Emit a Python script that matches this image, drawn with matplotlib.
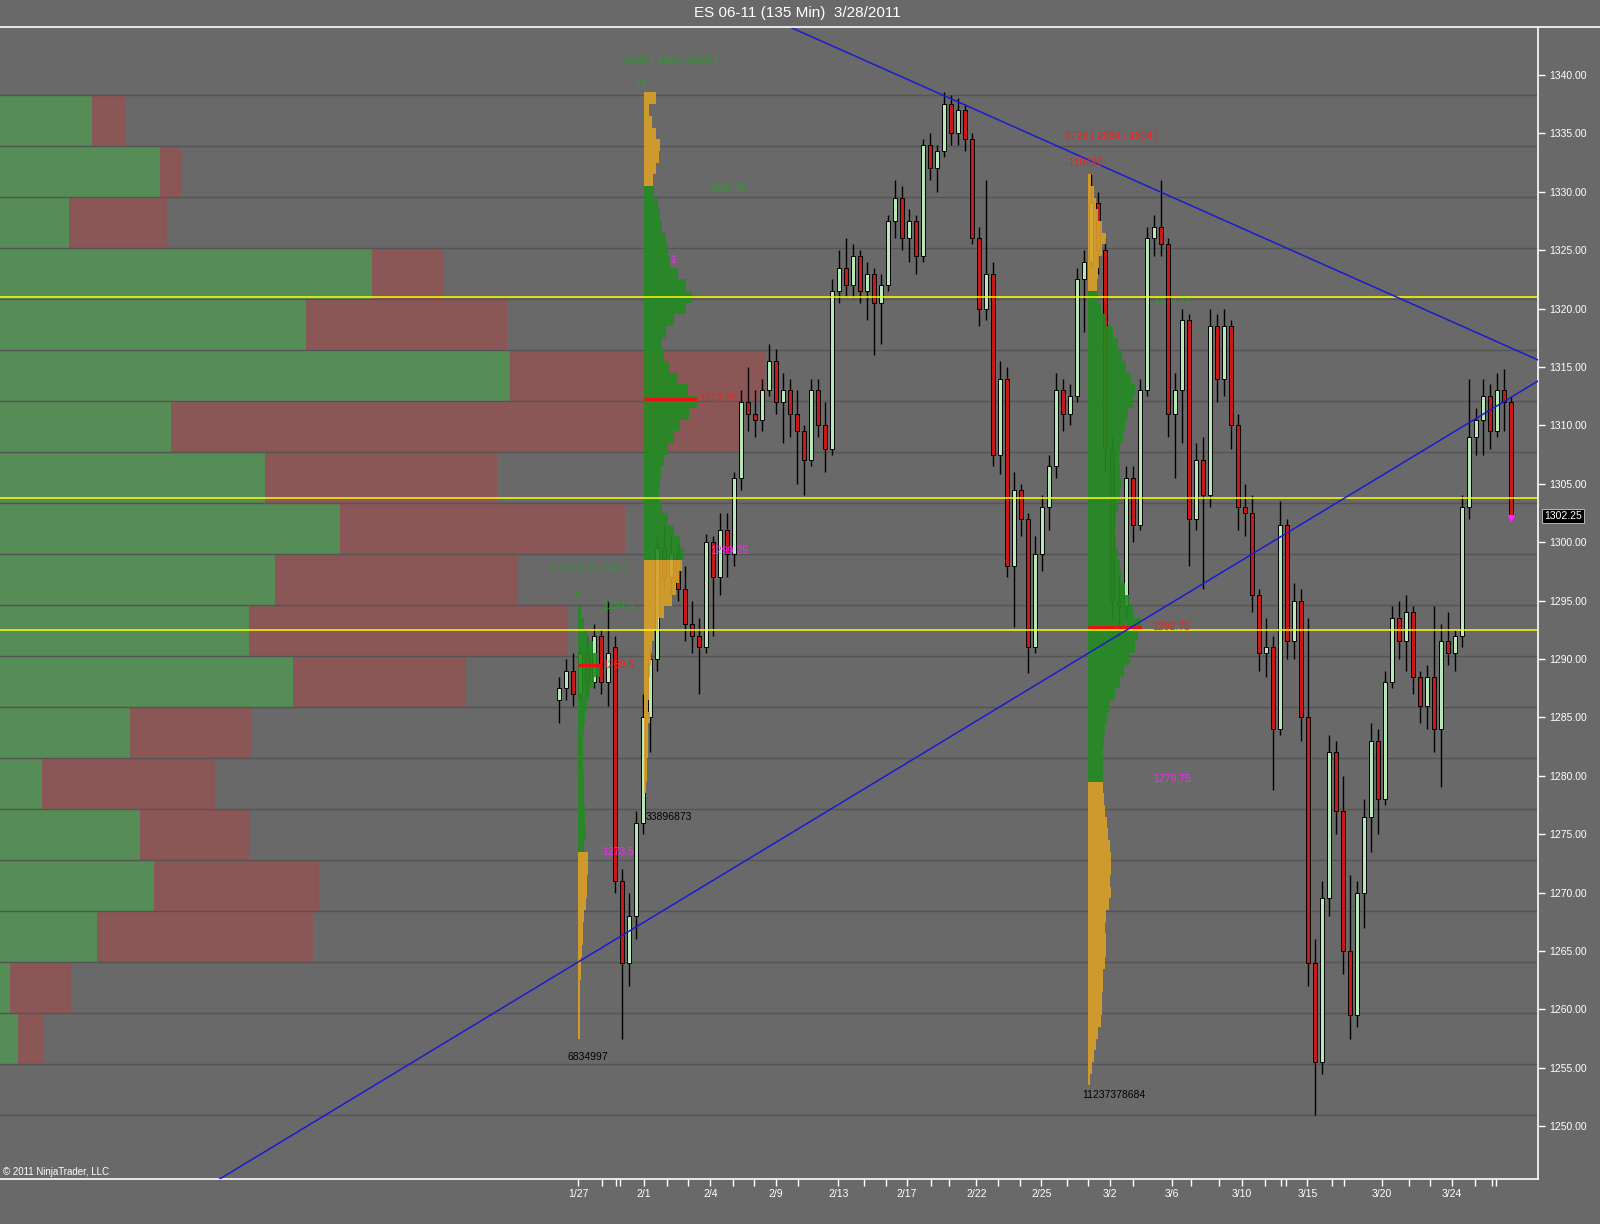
import numpy as np
import matplotlib
matplotlib.use("Agg")
import matplotlib.pyplot as plt
import matplotlib.transforms as mtransforms
from matplotlib.lines import Line2D

plt.rcParams['font.family'] = ['Liberation Sans', 'DejaVu Sans']

# ---------------- data ----------------
title = "ES 06-11 (135 Min)  3/28/2011"

opens = [1286.5, 1287.5, 1289, 1287, 1290.5, 1288, 1292, 1288, 1291, 1271,
         1264, 1268, 1276, 1285, 1290, 1299.5, 1297, 1299, 1296, 1293,
         1292, 1291, 1300, 1297, 1301, 1299, 1305.5, 1312, 1311, 1310.5,
         1313, 1315.5, 1312, 1313, 1311, 1309.5, 1307, 1313, 1310, 1308,
         1321.5, 1323.5, 1322, 1324.5, 1321.5, 1323, 1320.5, 1322, 1327.5, 1329.5,
         1326, 1327.5, 1324.5, 1334, 1332, 1333.5, 1337.5, 1335, 1337, 1334.5,
         1326, 1320, 1323, 1307.5, 1314, 1298, 1304.5, 1302, 1291, 1299,
         1303, 1306.5, 1313, 1311, 1312.5, 1322.5, 1324, 1329, 1325, 1308,
         1295, 1294.5, 1305.5, 1301.5, 1313, 1326, 1327, 1325.5, 1311, 1313,
         1319, 1302, 1307, 1304, 1318.5, 1314, 1318.5, 1310, 1303, 1302.5,
         1295.5, 1290.5, 1291, 1284, 1301.5, 1291.5, 1295, 1285, 1264, 1255.5,
         1269.5, 1282, 1277, 1265, 1259.5, 1270, 1276.5, 1283, 1278, 1288,
         1293.5, 1291.5, 1294, 1288.5, 1286, 1288.5, 1284, 1291.5, 1290.5, 1292,
         1303, 1309, 1310.5, 1312.5, 1309.5, 1313, 1312]
highs = [1288.5, 1290, 1290.5, 1291, 1292, 1293, 1292.5, 1295, 1292, 1272,
         1270, 1277, 1287, 1291, 1300.5, 1301.5, 1300.5, 1300, 1298, 1295,
         1293.5, 1300.7, 1300.5, 1302.5, 1302.5, 1306, 1313, 1315, 1313, 1314,
         1317, 1316.5, 1314.5, 1314, 1313, 1310, 1314, 1314, 1312, 1322.5,
         1325, 1326, 1325.5, 1325, 1324, 1323.5, 1323, 1328, 1331, 1330.5,
         1328.5, 1328, 1334.5, 1335, 1334, 1338.5, 1338.25, 1338, 1337.5, 1335,
         1327, 1331, 1324, 1315.5, 1315, 1306, 1305, 1302.5, 1300.5, 1304,
         1307.5, 1314.5, 1314, 1313.5, 1323.5, 1325, 1331.5, 1330, 1326, 1309,
         1297, 1306.5, 1306.5, 1314, 1327, 1328, 1331, 1326, 1314.5, 1320,
         1319.5, 1308.5, 1309, 1320, 1319.5, 1320, 1319, 1311, 1305, 1304,
         1296, 1293.5, 1292, 1303.5, 1302, 1296.5, 1296, 1293.5, 1266, 1271,
         1283.5, 1283, 1280, 1271.5, 1271, 1278, 1284.5, 1284, 1289, 1294.5,
         1295, 1295.5, 1294.5, 1289, 1289.5, 1294.5, 1293, 1294, 1292.5, 1304,
         1314, 1311.5, 1314, 1313.5, 1314.5, 1314.8, 1312.5]
lows = [1284.5, 1286.5, 1286, 1286.5, 1287, 1287.5, 1287, 1286, 1270, 1257.5,
        1262, 1266, 1275, 1282, 1289, 1296, 1295.5, 1295, 1291.5, 1290.5,
        1287, 1290.5, 1292, 1295.5, 1297, 1298, 1304.5, 1309.5, 1309, 1309.5,
        1312.5, 1311, 1308.5, 1309, 1305, 1304, 1306.5, 1309, 1306, 1307.5,
        1320.5, 1321, 1321, 1320.5, 1319, 1316, 1317, 1321.5, 1326, 1325,
        1324, 1323, 1324, 1331, 1330, 1333, 1334, 1334, 1333.5, 1325.5,
        1318.5, 1319, 1306.5, 1305.8, 1297, 1292.7, 1300.5, 1288.8, 1290.5, 1297.5,
        1301, 1305.5, 1309.5, 1310, 1312, 1318, 1323.5, 1323, 1306, 1293.5,
        1292, 1293.5, 1300, 1301, 1312.5, 1324.5, 1324.5, 1309, 1305.5, 1308.5,
        1298, 1301, 1296, 1303, 1312, 1312.5, 1308, 1301, 1300.5, 1294,
        1289, 1288.5, 1278.8, 1283.5, 1290, 1290, 1283, 1262, 1251, 1254.5,
        1268, 1275, 1263, 1257.5, 1258.5, 1267, 1273.5, 1275, 1277.5, 1287.5,
        1290, 1289, 1287, 1284.5, 1284, 1282, 1279, 1289.5, 1289, 1291,
        1302, 1307.5, 1307.5, 1308, 1309, 1309.5, 1302]
closes = [1287.5, 1289, 1287, 1290.5, 1288, 1292, 1288, 1290.5, 1271, 1264,
          1268, 1276, 1285, 1290, 1299.5, 1297, 1299, 1296, 1293, 1292,
          1291, 1300, 1297, 1301, 1299, 1305.5, 1312, 1311, 1310.5, 1313,
          1315.5, 1312, 1313, 1311, 1309.5, 1307, 1313, 1310, 1308, 1321.5,
          1323.5, 1322, 1324.5, 1321.5, 1323, 1320.5, 1322, 1327.5, 1329.5, 1326,
          1327.5, 1324.5, 1334, 1332, 1333.5, 1337.5, 1335, 1337, 1334.5, 1326,
          1320, 1323, 1307.5, 1314, 1298, 1304.5, 1302, 1291, 1299, 1303,
          1306.5, 1313, 1311, 1312.5, 1322.5, 1324, 1329, 1325, 1308, 1295,
          1294.5, 1305.5, 1301.5, 1313, 1326, 1327, 1325.5, 1311, 1313, 1319,
          1302, 1307, 1304, 1318.5, 1314, 1318.5, 1310, 1303, 1302.5, 1295.5,
          1290.5, 1291, 1284, 1301.5, 1291.5, 1295, 1285, 1264, 1255.5, 1269.5,
          1282, 1277, 1265, 1259.5, 1270, 1276.5, 1283, 1278, 1288, 1293.5,
          1291.5, 1294, 1288.5, 1286, 1288.5, 1284, 1291.5, 1290.5, 1292, 1303,
          1309, 1310.5, 1312.5, 1309.5, 1313, 1312, 1302.25]

date_tick_pos = [2.7, 12.1, 21.6, 31.0, 39.9, 49.7, 59.6, 68.9, 78.7, 87.6, 97.6, 106.9, 117.6, 127.6]
date_labels = ['1/27', '2/1', '2/4', '2/9', '2/13', '2/17', '2/22', '2/25', '3/2', '3/6', '3/10', '3/15', '3/20', '3/24']
session_tick_pos = [6.1, 8.1, 8.7, 15.4, 18.4, 24.9, 27.9, 34.1, 43.6, 46.7, 53.1, 55.7, 62.7, 65.9,
                    72.6, 75.6, 82.0, 90.3, 94.3, 100.9, 103.1, 103.9, 110.4, 112.1, 121.4, 124.4,
                    130.9, 133.3, 133.9]
price_ticks = [1250, 1255, 1260, 1265, 1270, 1275, 1280, 1285, 1290, 1295, 1300, 1305,
               1310, 1315, 1320, 1325, 1330, 1335, 1340]

# left volume profile (20 rows from low 1251 to high 1338.25)
row_edges = [1251.00, 1255.36, 1259.73, 1264.09, 1268.45, 1272.81, 1277.18, 1281.54, 1285.90,
             1290.26, 1294.63, 1298.99, 1303.35, 1307.71, 1312.08, 1316.44, 1320.80, 1325.16,
             1329.53, 1333.89, 1338.25]
buy_vol = [0, 18, 10, 97, 154, 140, 42, 130, 293, 249, 275, 340, 265, 171, 510, 306, 372, 69, 160, 92]
sell_vol = [0, 26, 61, 216, 165, 110, 173, 122, 173, 319, 243, 285, 232, 572, 255, 201, 72, 98, 22, 33]

# session volume profiles (1-point bins, listed from top price downward)
prof1_top = 1294
prof1_vol = [3, 6, 10, 15, 20, 22, 16, 12, 9, 7, 6, 5, 5, 5, 6, 6, 6, 7, 7, 8, 6,
             10, 10, 9, 9, 8, 6, 5, 5, 4, 3, 3, 2, 2, 2, 2, 2]
prof2_top = 1338
prof2_vol = [12, 5, 8, 12, 16, 15, 12, 9, 10, 14, 16, 18, 22, 24, 26, 34, 42, 48, 42, 30,
             22, 18, 20, 26, 34, 44, 53, 45, 36, 30, 24, 20, 17, 16, 15, 18, 24, 30, 36, 40,
             38, 35, 32, 28, 20, 14, 10, 8, 7, 6, 5, 5, 4, 6, 4, 4, 4, 3, 3, 2]
prof3_top = 1331
prof3_vol = [3, 6, 8, 10, 14, 18, 14, 11, 10, 9, 10, 13, 18, 25, 30, 34, 38, 43, 47, 45,
             40, 37, 35, 32, 31, 32, 33, 32, 30, 28, 27, 28, 30, 32, 33, 37, 41, 45, 53, 50,
             47, 42, 36, 32, 27, 22, 19, 17, 16, 15, 15, 15, 15, 16, 17, 19, 20, 22, 23, 23,
             22, 23, 21, 18, 17, 18, 18, 17, 15, 15, 14, 14, 13, 10, 8, 6, 4, 2]
profiles = [
    # base bar position, top price, volumes, value-area low, value-area high, POC
    (2.71, prof1_top, prof1_vol, 1273.5, 1294.5, 1289.5),
    (12.14, prof2_top, prof2_vol, 1299.25, 1330.25, 1312.25),
    (75.57, prof3_top, prof3_vol, 1279.75, 1320.75, 1292.75),
]
value_lines = [1321.0, 1303.75, 1292.5]
trend_down = [(34.86, 1343.6), (139.86, 1315.6)]
trend_up = [(-48.14, 1245.6), (139.86, 1313.8)]
last_price = 1302.25

# ---------------- style ----------------
BG = '#696969'
UP = '#b8e8b8'
DOWN = '#c81818'
G_PROF = '#228b22'
O_PROF = '#daa028'
GRID = '#545454'
TXT_G = '#2f9a2f'
TXT_R = '#ee2222'
TXT_M = '#ff22ff'
PX_PER_BAR = 7.0

W, H = 1600, 1224
fig = plt.figure(figsize=(16, 12.24), dpi=100, facecolor=BG)
rect = [0.0, 1 - 1179 / H, 1538 / W, (1179 - 28) / H]
YMIN, YMAX = 1245.48, 1344.02

ax_vol = fig.add_axes(rect)
ax_vol.set_facecolor(BG)
ax_vol.set_xlim(0, 1538)
ax_vol.set_ylim(YMIN, YMAX)
ax_vol.axis('off')
lo = np.array(row_edges[:-1])
hi = np.array(row_edges[1:])
ax_vol.barh(lo, buy_vol, height=hi - lo, left=0, align='edge', color='#568c56', linewidth=0)
ax_vol.barh(lo, sell_vol, height=hi - lo, left=buy_vol, align='edge', color='#8a5656', linewidth=0)

ax = fig.add_axes(rect, facecolor='none')
ax.set_xlim(-79.86, 139.86)
ax.set_ylim(YMIN, YMAX)

for e in row_edges:
    ax.axhline(e, color=GRID, lw=1.0, zorder=1)

# candles
x = np.arange(len(closes))
o = np.array(opens); c = np.array(closes)
ax.vlines(x, lows, highs, color='black', lw=1.0, zorder=3)
body_bot = np.minimum(o, c)
body_h = np.maximum(np.abs(c - o), 0.15)
cols = np.where(c >= o, UP, DOWN)
ax.bar(x, body_h, bottom=body_bot, width=0.6, color=cols, edgecolor='black', linewidth=0.7, zorder=4)
ax.plot([x[-1]], [last_price - 0.2], marker='v', color='#ff22ff', ms=4, zorder=5)

# session profiles
for base, top, vols, val, vah, poc in profiles:
    prices = top - np.arange(len(vols))
    pc = [G_PROF if val - 0.3 <= p <= vah + 0.3 else O_PROF for p in prices]
    ax.barh(prices, np.array(vols) / PX_PER_BAR, left=base, height=1.0, color=pc,
            alpha=0.9, linewidth=0, zorder=5)
    ax.hlines(poc, base, base + max(vols) / PX_PER_BAR, color='#ee1111', lw=2.2, zorder=6.5)

for v in value_lines:
    ax.axhline(v, color='#ffff00', lw=1.1, zorder=6)

ax.axline(trend_down[0], trend_down[1], color='#1c1cd0', lw=1.1, zorder=7)
ax.axline(trend_up[0], trend_up[1], color='#1c1cd0', lw=1.1, zorder=7)

# profile annotations
fs = 7.5
ax.text(15.9, 1341.3, '2520 ( 1162 / 1321 )', color=TXT_G, fontsize=fs, ha='center', va='center', zorder=8)
ax.text(11.7, 1339.1, '21', color=TXT_G, fontsize=fs, ha='center', va='center', zorder=8)
ax.text(21.3, 1330.25, '1330.25', color=TXT_G, fontsize=fs, ha='left', va='center', zorder=8)
ax.text(16.3, 1324.2, '1', color=TXT_M, fontsize=fs, ha='center', va='center', zorder=8)
ax.text(20.1, 1312.25, '1312.25', color=TXT_R, fontsize=fs, ha='left', va='center', zorder=8)
ax.text(21.6, 1299.25, '1299.25', color=TXT_M, fontsize=fs, ha='left', va='center', zorder=8)
ax.text(12.4, 1276.5, '33896873', color='black', fontsize=fs, ha='left', va='center', zorder=8)
ax.text(4.2, 1297.7, '615 ( 112 / 346 )', color=TXT_G, fontsize=fs, ha='center', va='center', zorder=8)
ax.text(2.7, 1295.6, '4', color=TXT_G, fontsize=fs, ha='center', va='center', zorder=8)
ax.text(6.1, 1294.5, '1294.5', color=TXT_G, fontsize=fs, ha='left', va='center', zorder=8)
ax.text(6.1, 1289.5, '1289.5', color=TXT_R, fontsize=fs, ha='left', va='center', zorder=8)
ax.text(6.1, 1273.5, '1273.5', color=TXT_M, fontsize=fs, ha='left', va='center', zorder=8)
ax.text(4.1, 1255.9, '6834997', color='black', fontsize=fs, ha='center', va='center', zorder=8)
ax.text(79.0, 1334.8, '3726 ( 2084 / 1604 )', color=TXT_R, fontsize=fs, ha='center', va='center', zorder=8)
ax.text(72.4, 1332.5, '-110490', color=TXT_R, fontsize=fs, ha='left', va='center', zorder=8)
ax.text(84.9, 1320.75, '1320.75', color=TXT_G, fontsize=fs, ha='left', va='center', zorder=2)
ax.text(84.7, 1292.75, '1292.75', color=TXT_R, fontsize=fs, ha='left', va='center', zorder=8)
ax.text(84.9, 1279.75, '1279.75', color=TXT_M, fontsize=fs, ha='left', va='center', zorder=8)
ax.text(74.7, 1252.7, '11237378684', color='black', fontsize=fs, ha='left', va='center', zorder=8)

# axes styling
for s in ['top', 'left']:
    ax.spines[s].set_visible(False)
for s in ['right', 'bottom']:
    ax.spines[s].set_color('white')
    ax.spines[s].set_linewidth(1.2)
ax.yaxis.tick_right()
ax.set_yticks(price_ticks)
ax.set_yticklabels(['%.2f' % p for p in price_ticks])
ax.tick_params(axis='y', colors='white', labelsize=7.5, length=5, width=1, pad=3, direction='out')
ax.set_xticks(date_tick_pos)
ax.set_xticklabels(date_labels)
ax.set_xticks(session_tick_pos, minor=True)
ax.tick_params(axis='x', which='both', colors='white', labelsize=7.5, length=5, width=1, pad=2, direction='out')

trans = mtransforms.blended_transform_factory(ax.transAxes, ax.transData)
ax.text(1.004, last_price, '%.2f' % last_price, transform=trans, ha='left', va='center', color='white',
        fontsize=7.5, zorder=10, clip_on=False,
        bbox=dict(boxstyle='square,pad=0.2', fc='black', ec='#cccccc', lw=0.6))

fig.text(797 / W, 1 - 13 / H, title, ha='center', va='center', color='white', fontsize=11)
fig.add_artist(Line2D([0, 1], [1 - 27 / H, 1 - 27 / H], transform=fig.transFigure, color='white', lw=1.2))
fig.text(3 / W, 1 - 1172 / H, '\u00a9 2011 NinjaTrader, LLC', ha='left', va='center', color='white', fontsize=7)

fig.savefig('out.png', dpi=100, facecolor=BG)
